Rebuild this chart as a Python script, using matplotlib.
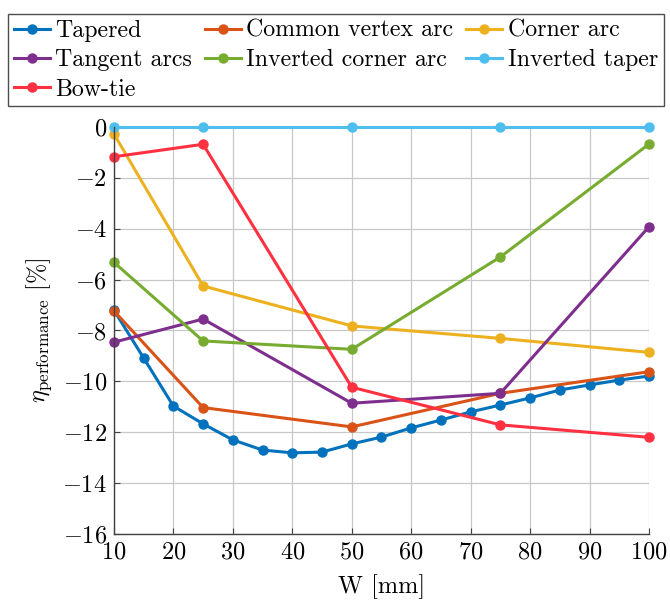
import matplotlib
matplotlib.use('Agg')
import matplotlib.pyplot as plt

plt.rcParams['font.family'] = 'cmr10'
plt.rcParams['mathtext.fontset'] = 'cm'
plt.rcParams['axes.formatter.use_mathtext'] = True

# width sweep for each geometry
w_fine = [10, 15, 20, 25, 30, 35, 40, 45, 50, 55, 60, 65, 70, 75, 80, 85, 90, 95, 100]
w = [10, 25, 50, 75, 100]

tapered = [-7.2, -9.08, -10.97, -11.67, -12.30, -12.70, -12.81, -12.78, -12.46, -12.19,
           -11.83, -11.52, -11.20, -10.93, -10.65, -10.34, -10.14, -9.95, -9.79]
common_vertex = [-7.23, -11.03, -11.79, -10.47, -9.62]
corner_arc = [-0.27, -6.25, -7.82, -8.31, -8.86]
tangent_arcs = [-8.46, -7.55, -10.86, -10.47, -3.92]
inv_corner = [-5.32, -8.41, -8.74, -5.11, -0.67]
inv_taper = [0, 0, 0, 0, 0]
bow_tie = [-1.17, -0.68, -10.23, -11.71, -12.20]

fs = 17.5

fig = plt.figure(figsize=(6.7, 6.01), dpi=100)
ax = fig.add_axes([0.170, 0.1115, 0.7987, 0.6772])

kw = dict(lw=2.2, marker='o', ms=6.5, clip_on=False)
h1, = ax.plot(w_fine, tapered, color='#0072BD', label='Tapered', **kw)
h2, = ax.plot(w, common_vertex, color='#D95319', label='Common vertex arc', **kw)
h3, = ax.plot(w, corner_arc, color='#EDB120', label='Corner arc', **kw)
h4, = ax.plot(w, tangent_arcs, color='#7E2F8E', label='Tangent arcs', **kw)
h5, = ax.plot(w, inv_corner, color='#77AC30', label='Inverted corner arc', **kw)
h6, = ax.plot(w, inv_taper, color='#4DBEEE', label='Inverted taper', **kw)
h7, = ax.plot(w, bow_tie, color='#FF3040', label='Bow-tie', **kw)

ax.set_xlim(10, 100)
ax.set_ylim(-16, 0)
ax.set_xticks(range(10, 101, 10))
ax.set_yticks(range(-16, 1, 2))
ax.grid(True, color='#c8c8c8', lw=0.9)
ax.set_axisbelow(True)
for s in ['top', 'right']:
    ax.spines[s].set_visible(False)
for s in ['left', 'bottom']:
    ax.spines[s].set_color('#404040')
    ax.spines[s].set_linewidth(1.0)
ax.tick_params(direction='in', length=4, labelsize=fs, color='#404040', pad=5)

ax.set_xlabel('W [mm]', fontsize=fs, labelpad=8)
ax.set_ylabel(r'$\eta_{\mathrm{performance}}$ [%]', fontsize=fs, labelpad=6)

handles = [h1, h4, h7, h2, h5, h3, h6]
leg = fig.legend(handles=handles, loc='upper left', bbox_to_anchor=(0.012, 0.977),
                 ncol=3, fontsize=17.2, frameon=True, fancybox=False,
                 handlelength=1.5, handletextpad=0.22, columnspacing=0.55,
                 labelspacing=0.3, borderpad=0.25, borderaxespad=0)
leg.get_frame().set_edgecolor('#202020')
leg.get_frame().set_linewidth(1.0)

fig.savefig('out.png', dpi=100)
